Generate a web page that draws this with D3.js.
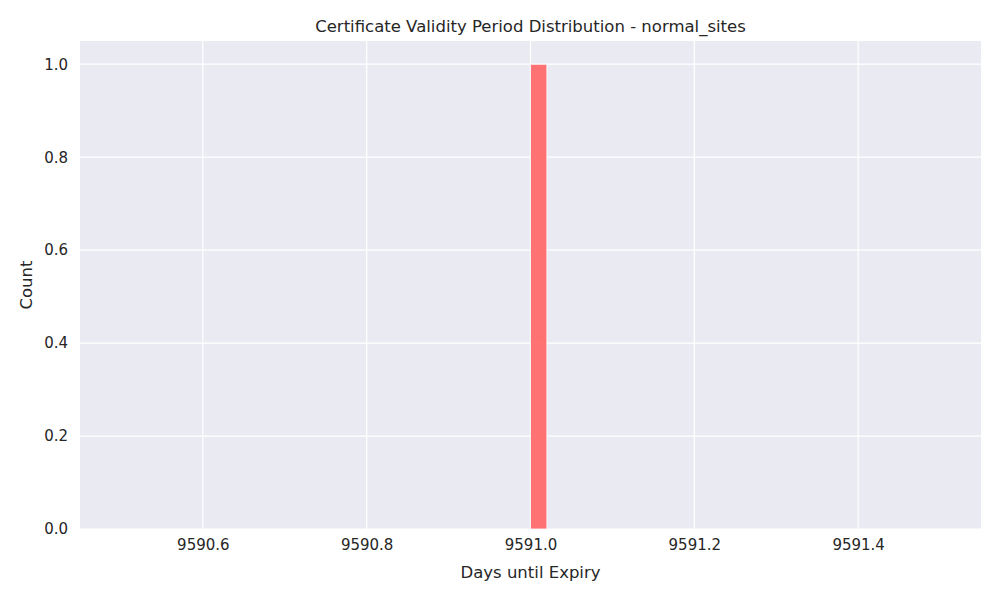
<!DOCTYPE html>
<html><head><meta charset="utf-8">
<script src="https://cdn.jsdelivr.net/npm/d3@7"></script>
<style>body{margin:0;background:#fff;font-family:"DejaVu Sans",sans-serif;}</style>
</head><body>
<script>
// Histogram bins (left edge, right edge, count)
const binStarts = [9591.0];
const binEnds = [9591.02];
const counts = [1];
const xTicks = [9590.6, 9590.8, 9591.0, 9591.2, 9591.4];
const yTicks = [0, 0.2, 0.4, 0.6, 0.8, 1.0];

const W = 1000, H = 600,
  margin = { left: 80, right: 19, top: 41, bottom: 71 };

const x = d3.scaleLinear().domain([9590.45, 9591.55]).range([margin.left, W - margin.right]);
const y = d3.scaleLinear().domain([0, 1.05]).range([H - margin.bottom, margin.top]);

const svg = d3.select("body").append("svg").attr("width", W).attr("height", H);

// Axes background
svg.append("rect")
  .attr("x", margin.left).attr("y", margin.top)
  .attr("width", W - margin.left - margin.right)
  .attr("height", H - margin.top - margin.bottom)
  .style("fill", "#eaeaf2");

// Grid lines
svg.append("g").selectAll("line").data(xTicks).enter().append("line")
  .attr("x1", d => x(d)).attr("x2", d => x(d))
  .attr("y1", margin.top).attr("y2", H - margin.bottom)
  .style("stroke", "#fff").style("stroke-width", 1.25);
svg.append("g").selectAll("line").data(yTicks).enter().append("line")
  .attr("x1", margin.left).attr("x2", W - margin.right)
  .attr("y1", d => y(d)).attr("y2", d => y(d))
  .style("stroke", "#fff").style("stroke-width", 1.25);

// Bars
svg.append("g").selectAll("rect").data(counts).enter().append("rect")
  .attr("x", (d, i) => x(binStarts[i]))
  .attr("width", (d, i) => x(binEnds[i]) - x(binStarts[i]))
  .attr("y", d => y(d))
  .attr("height", d => y(0) - y(d))
  .style("fill", "#ff6b6b").style("fill-opacity", 0.95)
  .style("stroke", "#fff").style("stroke-width", 0.8);

// Axes with labels only
const xAxis = svg.append("g")
  .attr("transform", `translate(0,${H - margin.bottom})`)
  .call(d3.axisBottom(x).tickValues(xTicks).tickFormat(d3.format(".1f")).tickSize(0).tickPadding(10));
const yAxis = svg.append("g")
  .attr("transform", `translate(${margin.left},0)`)
  .call(d3.axisLeft(y).tickValues(yTicks).tickFormat(d3.format(".1f")).tickSize(0).tickPadding(12));
[xAxis, yAxis].forEach(a => {
  a.select(".domain").remove();
  a.selectAll("text").style("font-family", "DejaVu Sans").style("font-size", "15px").style("fill", "#262626");
});

svg.append("text").attr("x", (margin.left + W - margin.right) / 2).attr("y", 578)
  .attr("text-anchor", "middle").style("font-size", "16.5px").style("fill", "#262626")
  .text("Days until Expiry");
svg.append("text").attr("transform", `translate(32,${(margin.top + H - margin.bottom) / 2}) rotate(-90)`)
  .attr("text-anchor", "middle").style("font-size", "16.5px").style("fill", "#262626")
  .text("Count");
svg.append("text").attr("x", (margin.left + W - margin.right) / 2).attr("y", 32)
  .attr("text-anchor", "middle").style("font-size", "16.5px").style("fill", "#262626")
  .text("Certificate Validity Period Distribution - normal_sites");
</script>
</body></html>
